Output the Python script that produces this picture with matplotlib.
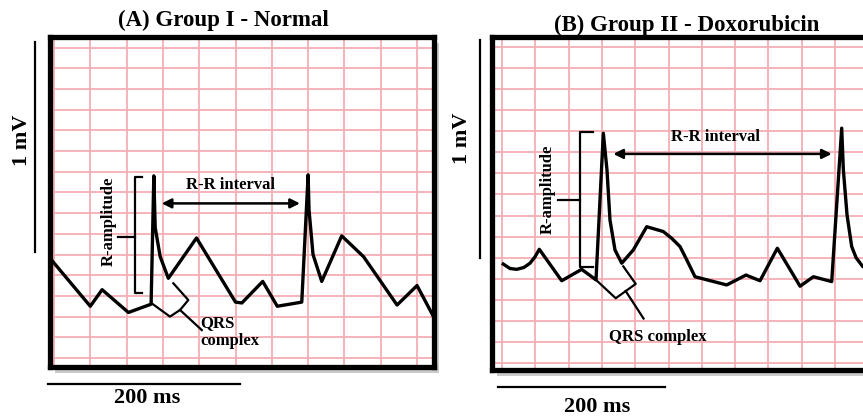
import matplotlib.pyplot as plt
import numpy as np
from matplotlib.lines import Line2D
from matplotlib.patches import Rectangle

# Bildgroesse in Pixel (Referenz)
W, H = 863, 418

# --- Daten: Zeit in ms (40 ms je Kaestchen), Spannung in mV (0.1 mV je Kaestchen)

# (A) Group I - Normal
a_t = [-4, 40, 53, 82, 107, 110, 111.5, 117, 126, 157, 200, 207, 230, 246,
       273, 280, 281, 285.4, 295, 317, 341, 378, 400, 420]
a_mv = [0.48, 0.25, 0.33, 0.22, 0.26, 0.88, 0.63, 0.49, 0.385, 0.58, 0.27,
        0.266, 0.37, 0.25, 0.27, 0.885, 0.715, 0.50, 0.37, 0.59, 0.49, 0.256,
        0.35, 0.185]

# (B) Group II - Doxorubicin
b_t = [1.5, 9.6, 17.7, 26.4, 33.6, 39.6, 44.8, 71.7, 95.7, 112.9, 121.7,
       126.1, 129.7, 135.7, 143.8, 157.7, 173.8, 193.8, 203.8, 213.8, 221.9,
       231.8, 269.9, 293.1, 309.9, 330.7, 358, 374, 396, 408, 410, 414.4, 420,
       425.3, 433.3, 442]
b_mv = [0.47, 0.449, 0.445, 0.454, 0.474, 0.504, 0.54, 0.391, 0.445, 0.395,
        1.09, 0.916, 0.679, 0.537, 0.474, 0.537, 0.647, 0.624, 0.592, 0.553,
        0.49, 0.41, 0.371, 0.418, 0.391, 0.545, 0.365, 0.41, 0.387, 1.114,
        0.916, 0.703, 0.553, 0.5, 0.458, 0.45]

# Klammern / Pfeile (ms, mV)
a_qrs_t = [107.7, 127.8, 138.9, 148, 131.5]
a_qrs_mv = [0.264, 0.2, 0.232, 0.28, 0.361]
a_qrs_ptr = [(138.9, 0.232), (162.8, 0.135)]
a_ramp_t = [96.6, 89.3, 89.3, 97.3]
a_ramp_mv = [0.876, 0.876, 0.313, 0.313]
a_ramp_tick = [(89.3, 0.586), (70.9, 0.586)]
a_rr = [(118.7, 0.747), (271, 0.747)]

b_qrs_t = [112.9, 136.6, 148.6, 160.6, 145.7]
b_qrs_mv = [0.395, 0.308, 0.342, 0.376, 0.459]
b_qrs_ptr = [(148.6, 0.342), (170, 0.212)]
b_ramp_t = [109.7, 93.7, 93.7, 109.7]
b_ramp_mv = [1.098, 1.098, 0.458, 0.458]
b_ramp_tick = [(93.7, 0.774), (67.6, 0.774)]
b_rr = [(133.7, 0.992), (396, 0.992)]

GRID = '#f5aeb3'

plt.rcParams['font.family'] = ['Liberation Serif', 'DejaVu Serif']
plt.rcParams['font.weight'] = 'bold'

fig = plt.figure(figsize=(W / 100, H / 100), dpi=100)


def fx(px):
    return px / W


def fy(py):
    return 1 - py / H


def fig_line(x0, y0, x1, y1):
    fig.add_artist(Line2D([fx(x0), fx(x1)], [fy(y0), fy(y1)],
                          transform=fig.transFigure, color='k', lw=1.6))


def panel(box, xlim, ylim, t, mv, qrs_t, qrs_mv, qrs_ptr, ramp_t, ramp_mv,
          ramp_tick, rr):
    left, top, right, bottom = box

    # Schatten hinter dem Rahmen
    fig.add_artist(Rectangle((fx(left + 5), fy(bottom + 6)),
                             (right - left) / W, (bottom - top) / H,
                             transform=fig.transFigure, facecolor='#8a8a8a',
                             edgecolor='none', alpha=0.45, zorder=-1))

    ax = fig.add_axes([fx(left), fy(bottom), (right - left) / W,
                       (bottom - top) / H])
    ax.set_xlim(xlim)
    ax.set_ylim(ylim)
    ax.set_xticks(np.arange(0, xlim[1], 40))
    ax.set_yticks(np.arange(0, ylim[1], 0.1))
    ax.grid(True, color=GRID, lw=1.3)
    ax.tick_params(length=0, labelbottom=False, labelleft=False)
    for s in ax.spines.values():
        s.set_linewidth(3.8)

    # EKG-Kurve
    ax.plot(t, mv, color='k', lw=2.4)

    # QRS-Klammer
    ax.plot(qrs_t, qrs_mv, color='k', lw=1.6)
    ax.plot(*zip(*qrs_ptr), color='k', lw=1.6)

    # R-Amplitude
    ax.plot(ramp_t, ramp_mv, color='k', lw=1.6)
    ax.plot(*zip(*ramp_tick), color='k', lw=1.6)

    # R-R Intervall
    ax.annotate('', xy=rr[1], xytext=rr[0],
                arrowprops=dict(arrowstyle='<|-|>', color='k', lw=1.8,
                                mutation_scale=14, shrinkA=0, shrinkB=0))
    return ax


ax_a = panel((50, 37, 434, 367), (-4.4, 418.7), (-0.0435, 1.551),
             a_t, a_mv, a_qrs_t, a_qrs_mv, a_qrs_ptr, a_ramp_t, a_ramp_mv,
             a_ramp_tick, a_rr)
ax_a.text(60.6, 0.662, 'R-amplitude', rotation=90, ha='center', va='center',
          fontsize=12)
ax_a.text(194, 0.836, 'R-R interval', ha='center', va='center', fontsize=12)
ax_a.text(161, 0.126, 'QRS\ncomplex', ha='left', va='center', fontsize=12)

ax_b = panel((492, 37, 880, 370), (-12, 454), (-0.032, 1.546),
             b_t, b_mv, b_qrs_t, b_qrs_mv, b_qrs_ptr, b_ramp_t, b_ramp_mv,
             b_ramp_tick, b_rr)
ax_b.text(55.3, 0.826, 'R-amplitude', rotation=90, ha='center', va='center',
          fontsize=12)
ax_b.text(257, 1.074, 'R-R interval', ha='center', va='center', fontsize=12)
ax_b.text(187.4, 0.126, 'QRS complex', ha='center', va='center', fontsize=12)

# Titel
fig.text(fx(223), fy(20), '(A) Group I - Normal', ha='center', va='center',
         fontsize=16.5)
fig.text(fx(687), fy(25), '(B) Group II - Doxorubicin', ha='center',
         va='center', fontsize=16.5)

# Massstabsbalken
fig_line(35, 41.7, 35, 251.7)
fig_line(47.7, 384, 240, 384)
fig.text(fx(21.7), fy(140), '1 mV', rotation=90, ha='center', va='center',
         fontsize=16)
fig.text(fx(146.7), fy(398.3), '200 ms', ha='center', va='center', fontsize=16)

fig_line(480, 40, 480, 258)
fig_line(498.3, 387.3, 665, 387.3)
fig.text(fx(461.7), fy(138), '1 mV', rotation=90, ha='center', va='center',
         fontsize=16)
fig.text(fx(596.7), fy(407.3), '200 ms', ha='center', va='center', fontsize=16)

plt.savefig('out.png', dpi=100)
